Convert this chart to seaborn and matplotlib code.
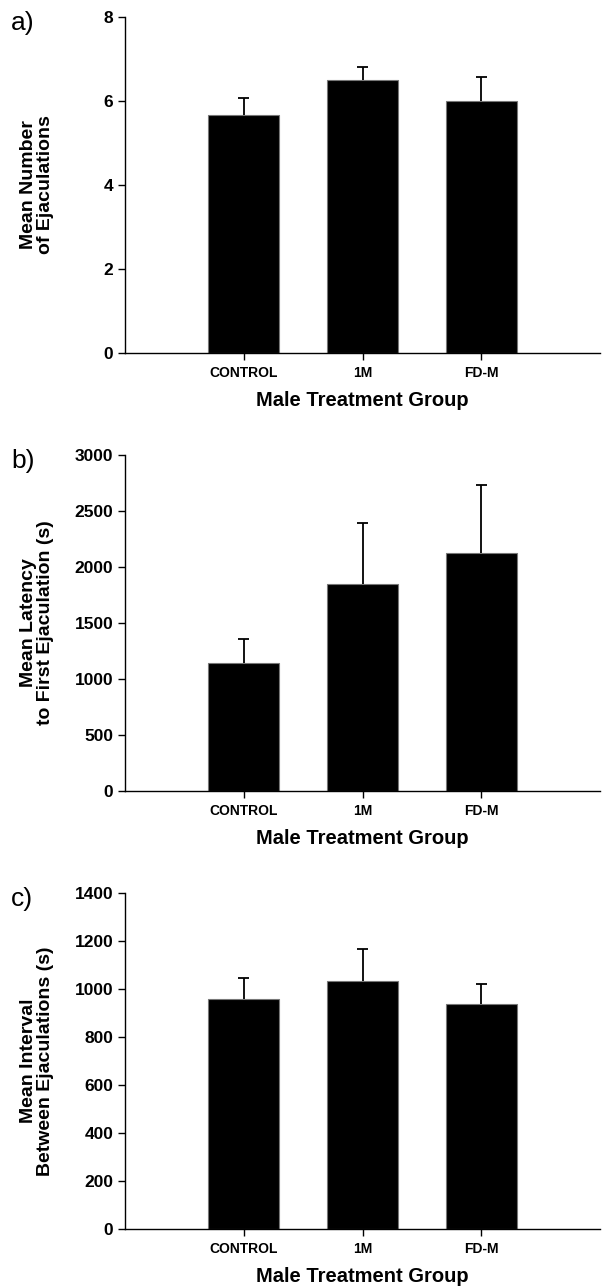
import matplotlib
matplotlib.use("Agg")
import matplotlib.pyplot as plt
import seaborn as sns
import pandas as pd
import numpy as np

groups = ["CONTROL", "1M", "FD-M"]

ejac_mean = [5.67, 6.50, 5.99]
ejac_err = [0.41, 0.30, 0.58]

latency_mean = [1143, 1848, 2128]
latency_err = [212, 548, 601]

interval_mean = [960, 1035, 937]
interval_err = [87, 130, 85]

panels = [
    ("a)", "Mean Number\nof Ejaculations", ejac_mean, ejac_err, 8, 2),
    ("b)", "Mean Latency\nto First Ejaculation (s)", latency_mean, latency_err, 3000, 500),
    ("c)", "Mean Interval\nBetween Ejaculations (s)", interval_mean, interval_err, 1400, 200),
]

sns.set_theme(style="ticks")
plt.rcParams["font.family"] = ["Liberation Sans", "DejaVu Sans"]
for k in ["text.color", "axes.labelcolor", "xtick.color", "ytick.color", "axes.edgecolor"]:
    plt.rcParams[k] = "black"

W, H = 605, 1288
fig = plt.figure(figsize=(W / 100, H / 100), dpi=100)

tops = [17, 455, 893]
for (tag, ylab, mean, err, ymax, step), top in zip(panels, tops):
    ax = fig.add_axes([125 / W, 1 - (top + 336) / H, 475 / W, 336 / H])
    df = pd.DataFrame({"group": groups, "value": mean})
    sns.barplot(data=df, x="group", y="value", color="black", width=0.6,
                edgecolor="#777777", linewidth=0.8, ax=ax, errorbar=None)
    for b in ax.patches:
        b.set_facecolor("black")
    x = np.arange(len(groups))
    upper = np.array(mean) + np.array(err)
    # upper error bar only
    ax.vlines(x, mean, upper, color="black", linewidth=1.3, zorder=3)
    ax.hlines(upper, x - 0.045, x + 0.045, color="black", linewidth=1.3, zorder=3)
    ax.set_xlim(-1, 3)
    ax.set_ylim(0, ymax)
    ax.set_yticks(np.arange(0, ymax + 1, step))
    sns.despine(ax=ax)
    ax.tick_params(axis="y", length=5, width=1, labelsize=12.5, pad=3.5)
    ax.tick_params(axis="x", length=5, width=1, labelsize=10, pad=4.5)
    for lab in ax.get_xticklabels() + ax.get_yticklabels():
        lab.set_fontweight("bold")
    for s in ["left", "bottom"]:
        ax.spines[s].set_linewidth(1)
    ax.set_ylabel(ylab, fontsize=14, fontweight="bold", linespacing=1.0)
    ax.yaxis.set_label_coords(-0.15, 0.5)
    ax.set_xlabel("Male Treatment Group", fontsize=14.5, fontweight="bold", labelpad=8)
    fig.text(11 / W, 1 - (top + 6) / H, tag, fontsize=19, va="center", ha="left")

fig.savefig("out.png", dpi=100, facecolor="white")
